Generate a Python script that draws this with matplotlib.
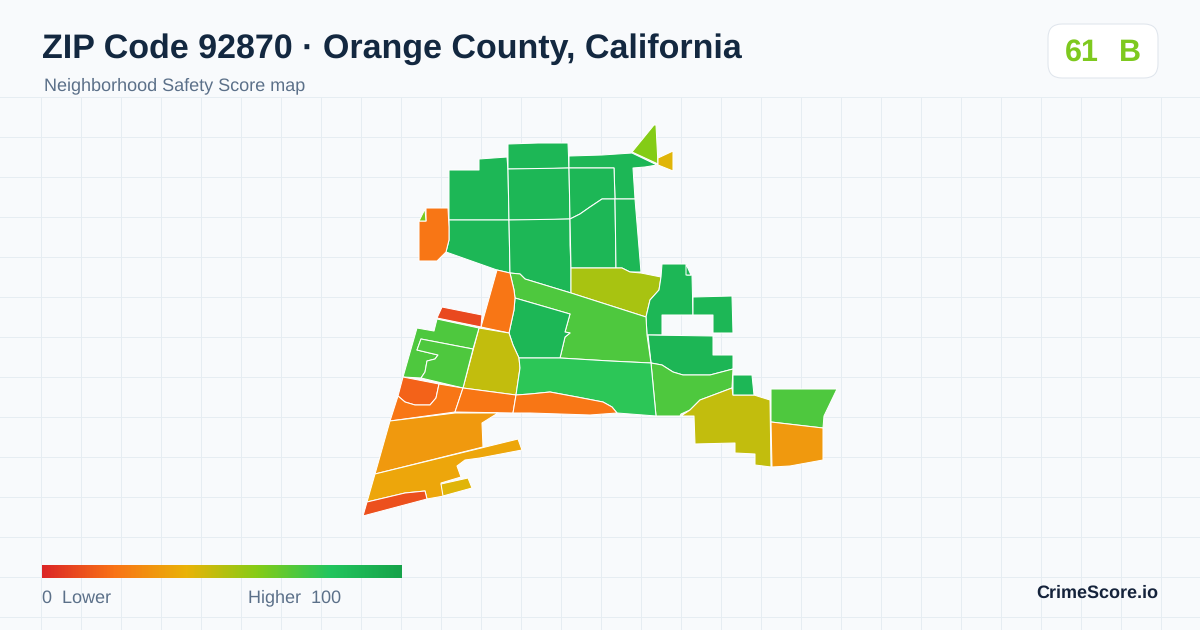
import matplotlib
matplotlib.use("Agg")
import matplotlib.pyplot as plt
import numpy as np
from matplotlib.colors import LinearSegmentedColormap, Normalize
from matplotlib.patches import FancyBboxPatch, Polygon

plt.rcParams['font.family'] = ['Liberation Sans', 'DejaVu Sans']
plt.rcParams['text.hinting'] = 'no_hinting'

# Tract outlines (pixels), with a score for each tract
tract_outlines = [
    [(449,170),(479,170),(479,159),(507,157),(508,170),(509,220),(449,220)],
    [(508,144),(538,143),(568,143),(569,168),(539,169),(508,169)],
    [(508,169),(569,168),(570,219),(540,220),(509,220)],
    [(449,220),(509,220),(510,273),(497,270),(446,252),(449,240)],
    [(509,220),(570,219),(570,245),(571,268),(571,293),(525,279),(520,274),(510,273)],
    [(569,156),(602,155),(632,153),(657,165),(645,167),(633,168),(635,199),(615,199),(614,168),(569,168)],
    [(569,168),(614,168),(615,199),(602,199),(590,207),(580,214),(570,219)],
    [(570,219),(580,214),(590,207),(602,199),(615,199),(616,268),(571,268)],
    [(615,199),(635,199),(641,272),(630,272),(622,268),(616,268)],
    [(632,152),(654,125),(656,125),(658,164)],
    [(658,158),(673,151),(673,171),(658,165)],
    [(571,268),(622,268),(630,272),(641,273),(661,277),(659,290),(650,300),(646,317),(571,293)],
    [(662,264),(687,264),(687,275),(692,275),(693,315),(662,315),(662,335),(647,335),(646,317),(650,300),(659,290),(661,277)],
    [(686,264),(691,275),(686,275)],
    [(693,297),(732,296),(733,333),(713,333),(713,315),(693,315)],
    [(648,335),(713,336),(713,355),(733,355),(733,369),(710,375),(683,375),(673,372),(662,365),(651,363)],
    [(651,363),(662,365),(673,372),(683,375),(710,375),(733,369),(732,388),(700,400),(690,410),(681,414),(680,416),(656,416)],
    [(681,416),(690,410),(700,400),(732,388),(733,395),(754,395),(770,400),(771,467),(755,465),(755,454),(735,453),(735,443),(695,444),(694,416)],
    [(733,375),(752,375),(754,395),(733,395)],
    [(771,389),(837,389),(824,416),(823,428),(771,422)],
    [(771,422),(823,428),(823,460),(790,466),(772,467)],
    [(510,273),(520,274),(525,279),(571,293),(646,317),(647,335),(651,363),(610,361),(560,358),(565,337),(570,333),(565,332),(570,314),(515,298),(514,290)],
    [(515,298),(570,314),(565,332),(570,333),(565,337),(560,358),(519,358),(513,345),(509,333),(514,310)],
    [(497,270),(510,273),(514,290),(515,298),(514,310),(509,333),(481,327)],
    [(442,307),(482,315),(481,327),(437,318)],
    [(479,328),(509,333),(513,345),(519,358),(520,368),(516,395),(463,388)],
    [(417,328),(434,331),(437,319),(479,328),(473,349),(421,339),(417,350),(438,355),(435,359),(427,361),(425,372),(421,378),(403,377)],
    [(421,339),(473,349),(463,388),(421,378),(425,372),(427,361),(435,359),(438,355),(417,350)],
    [(403,377),(439,384),(436,398),(430,405),(415,405),(405,402),(398,396)],
    [(398,396),(405,402),(415,405),(430,405),(436,398),(439,384),(463,388),(455,412),(390,421)],
    [(463,388),(516,395),(513,413),(455,412)],
    [(519,358),(560,358),(610,361),(651,363),(656,416),(630,414),(617,413),(612,407),(603,402),(577,397),(550,392),(530,394),(516,395),(520,368)],
    [(516,395),(530,394),(550,392),(577,397),(603,402),(612,407),(617,413),(590,415),(560,414),(530,413),(513,413)],
    [(390,421),(455,413),(498,413),(482,423),(483,447),(375,474)],
    [(375,474),(518,439),(522,450),(480,458),(465,460),(457,466),(461,477),(441,483),(444,496),(427,499),(425,491),(405,493),(367,502)],
    [(441,484),(468,478),(472,488),(443,496)],
    [(367,502),(405,493),(425,491),(427,499),(363,516)],
    [(426,208),(448,208),(449,227),(449,240),(446,252),(437,261),(419,261),(419,221),(426,221)],
    [(425,209),(426,221),(419,221)],
]
tract_scores = [88, 88, 88, 88, 88, 88, 88, 88, 88, 60, 42, 53, 88, 88, 88, 89, 71, 48,
                88, 71, 32, 71, 88, 21, 9, 48, 71, 71, 16, 21, 21, 78, 21, 32, 36, 42, 11, 21, 62]

score_stops = [0.0, 0.2, 0.4, 0.6, 0.8, 1.0]
stop_colors = ['#dc2626', '#f97316', '#eab308', '#84cc16', '#22c55e', '#16a34a']

grid_x = np.arange(0.5, 1200, 40) + 40
grid_y = np.arange(96.5, 630, 40)

title = 'ZIP Code 92870 · Orange County, California'
subtitle = 'Neighborhood Safety Score map'
badge_score = '61'
badge_grade = 'B'
brand = 'CrimeScore.io'

cmap = LinearSegmentedColormap.from_list('safety', list(zip(score_stops, stop_colors)))
norm = Normalize(0, 100)

fig = plt.figure(figsize=(12, 6.3), dpi=100, facecolor='#f8fafc')
ax = fig.add_axes([0, 0, 1, 1])
ax.set_facecolor('#f8fafc')
ax.axis('off')

# grid stays below the header
for x in grid_x:
    ax.plot([x, x], [96.5, 630], color='#e6edf2', lw=0.72, zorder=1)
for y in grid_y:
    ax.plot([0, 1200], [y, y], color='#e6edf2', lw=0.72, zorder=1)

for outline, score in zip(tract_outlines, tract_scores):
    ax.add_patch(Polygon(outline, closed=True, facecolor=cmap(norm(score)),
                         edgecolor='white', lw=0.75, joinstyle='round', zorder=2))

# header
ax.text(42, 49, title, fontsize=24.5, fontweight='bold', color='#132840', va='center', ha='left')
ax.text(44, 86, subtitle, fontsize=12.95, color='#5b7089', va='center', ha='left')

# score badge
ax.add_patch(FancyBboxPatch((1062, 38), 82, 26, boxstyle='round,pad=14,rounding_size=14',
                            facecolor='white', edgecolor='#dfe5ec', lw=0.72, zorder=3))
ax.text(1082, 52.5, badge_score, fontsize=22, fontweight='bold', color='#7ec91f', va='center', ha='center', zorder=4)
ax.text(1130, 52.5, badge_grade, fontsize=22, fontweight='bold', color='#7ec91f', va='center', ha='center', zorder=4)

# colour legend
gradient = np.linspace(0, 100, 360).reshape(1, -1)
ax.imshow(gradient, cmap=cmap, norm=norm, extent=(42, 402, 578, 565), aspect='auto', zorder=3)
ax.text(42, 598, '0  Lower', fontsize=12.95, color='#5b7089', va='center', ha='left')
ax.text(341.5, 598, 'Higher  100', fontsize=12.95, color='#5b7089', va='center', ha='right')

ax.text(1158, 593, brand, fontsize=13, fontweight='bold', color='#15233b', va='center', ha='right')

ax.set_xlim(0, 1200)
ax.set_ylim(630, 0)

fig.savefig('out.png', dpi=100, facecolor=fig.get_facecolor())
